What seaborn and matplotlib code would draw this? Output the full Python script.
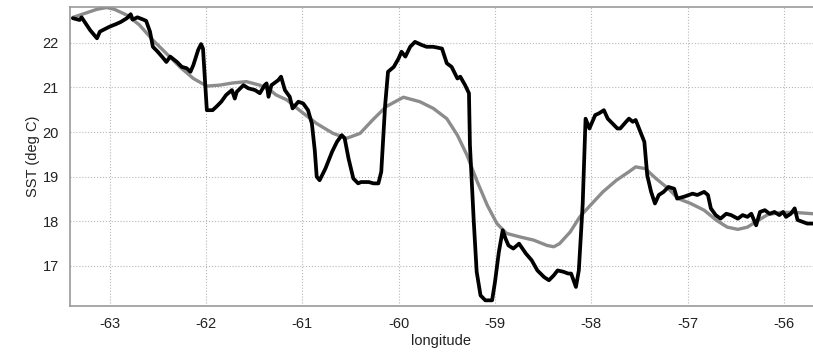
import numpy as np
import matplotlib
matplotlib.use('Agg')
import matplotlib.pyplot as plt
import seaborn as sns

# observed SST along track (black)
obs_lon = [-63.38, -63.31, -63.29, -63.20, -63.13, -63.10, -63.00, -62.93, -62.88, -62.82,
           -62.78, -62.76, -62.71, -62.65, -62.62, -62.58, -62.55, -62.50, -62.44, -62.41,
           -62.37, -62.30, -62.25, -62.20, -62.16, -62.13, -62.08, -62.05, -62.03, -61.99,
           -61.93, -61.89, -61.84, -61.79, -61.73, -61.70, -61.68, -61.61, -61.56, -61.49,
           -61.44, -61.39, -61.37, -61.35, -61.32, -61.25, -61.22, -61.18, -61.13, -61.10,
           -61.04, -60.99, -60.94, -60.90, -60.87, -60.85, -60.82, -60.76, -60.69, -60.64,
           -60.59, -60.56, -60.52, -60.47, -60.42, -60.39, -60.31, -60.26, -60.21, -60.18,
           -60.14, -60.11, -60.05, -60.00, -59.97, -59.93, -59.88, -59.83, -59.76, -59.71,
           -59.64, -59.55, -59.50, -59.45, -59.39, -59.36, -59.31, -59.27, -59.26, -59.22,
           -59.19, -59.15, -59.10, -59.03, -59.00, -58.96, -58.92, -58.89, -58.86, -58.81,
           -58.75, -58.68, -58.62, -58.56, -58.49, -58.44, -58.39, -58.35, -58.29, -58.24,
           -58.21, -58.16, -58.13, -58.09, -58.06, -58.02, -57.99, -57.96, -57.92, -57.87,
           -57.83, -57.78, -57.73, -57.70, -57.64, -57.61, -57.57, -57.54, -57.49, -57.45,
           -57.42, -57.38, -57.34, -57.30, -57.25, -57.20, -57.14, -57.11, -57.04, -56.95,
           -56.90, -56.83, -56.79, -56.76, -56.71, -56.66, -56.60, -56.55, -56.48, -56.43,
           -56.38, -56.34, -56.29, -56.25, -56.20, -56.15, -56.10, -56.05, -56.01, -55.98,
           -55.93, -55.89, -55.86, -55.81, -55.76, -55.70]
obs_sst = [22.55, 22.51, 22.57, 22.28, 22.10, 22.25, 22.36, 22.42, 22.47, 22.55,
           22.64, 22.52, 22.57, 22.52, 22.49, 22.25, 21.91, 21.80, 21.65, 21.57,
           21.69, 21.57, 21.46, 21.43, 21.35, 21.50, 21.84, 21.97, 21.87, 20.49,
           20.49, 20.57, 20.68, 20.83, 20.94, 20.75, 20.90, 21.05, 20.98, 20.94,
           20.87, 21.05, 21.09, 20.79, 21.05, 21.16, 21.24, 20.94, 20.79, 20.53,
           20.68, 20.64, 20.49, 20.19, 19.59, 19.00, 18.92, 19.18, 19.56, 19.78,
           19.93, 19.86, 19.41, 18.96, 18.85, 18.88, 18.88, 18.85, 18.85, 19.11,
           20.60, 21.35, 21.46, 21.65, 21.80, 21.69, 21.91, 22.02, 21.95, 21.91,
           21.91, 21.87, 21.54, 21.46, 21.20, 21.24, 21.05, 20.87, 19.71, 17.99,
           16.87, 16.34, 16.23, 16.23, 16.64, 17.31, 17.80, 17.61, 17.46, 17.39,
           17.50, 17.28, 17.13, 16.90, 16.75, 16.68, 16.79, 16.90, 16.87, 16.83,
           16.83, 16.53, 16.90, 18.38, 20.30, 20.08, 20.23, 20.38, 20.42, 20.49,
           20.30, 20.19, 20.08, 20.08, 20.23, 20.30, 20.23, 20.27, 20.00, 19.78,
           19.03, 18.66, 18.40, 18.59, 18.66, 18.77, 18.73, 18.51, 18.55, 18.62,
           18.59, 18.66, 18.59, 18.29, 18.14, 18.06, 18.17, 18.14, 18.06, 18.14,
           18.10, 18.17, 17.91, 18.21, 18.25, 18.17, 18.21, 18.14, 18.21, 18.10,
           18.17, 18.29, 18.03, 17.99, 17.95, 17.95]

# model SST (gray)
mod_lon = [-63.38, -63.24, -63.13, -63.03, -62.95, -62.82, -62.69, -62.55, -62.41, -62.27,
           -62.13, -61.99, -61.86, -61.72, -61.58, -61.44, -61.34, -61.27, -61.16, -61.03,
           -60.85, -60.68, -60.54, -60.40, -60.27, -60.13, -59.95, -59.78, -59.64, -59.50,
           -59.39, -59.29, -59.19, -59.08, -58.98, -58.88, -58.74, -58.60, -58.46, -58.39,
           -58.33, -58.22, -58.12, -58.01, -57.88, -57.74, -57.61, -57.54, -57.44, -57.33,
           -57.20, -57.10, -56.97, -56.83, -56.70, -56.59, -56.48, -56.38, -56.27, -56.17,
           -56.03, -55.89, -55.70]
mod_sst = [22.57, 22.67, 22.75, 22.79, 22.75, 22.62, 22.40, 22.06, 21.76, 21.46,
           21.20, 21.03, 21.05, 21.10, 21.13, 21.05, 20.95, 20.83, 20.72, 20.49,
           20.19, 19.97, 19.86, 19.97, 20.27, 20.57, 20.78, 20.68, 20.53, 20.30,
           19.93, 19.48, 18.92, 18.36, 17.95, 17.73, 17.65, 17.58, 17.46, 17.43,
           17.50, 17.76, 18.10, 18.36, 18.66, 18.92, 19.11, 19.22, 19.18, 18.96,
           18.73, 18.51, 18.40, 18.25, 18.02, 17.87, 17.82, 17.87, 18.02, 18.15,
           18.20, 18.20, 18.17]

x_ticks = [-63, -62, -61, -60, -59, -58, -57, -56]
y_ticks = [17, 18, 19, 20, 21, 22]

sns.set_style('white')
plt.rcParams['font.family'] = ['Liberation Sans', 'DejaVu Sans']
plt.rcParams['axes.unicode_minus'] = False

fig = plt.figure(figsize=(8.13, 3.53), dpi=100)
ax = fig.add_axes([0.0861, 0.134, 0.9139, 0.846])

sns.lineplot(x=mod_lon, y=mod_sst, ax=ax, color='#8c8c8c', linewidth=2.4,
             estimator=None, sort=False)
sns.lineplot(x=obs_lon, y=obs_sst, ax=ax, color='black', linewidth=2.7,
             estimator=None, sort=False)

ax.set_xlim(-63.41, -55.70)
ax.set_ylim(16.11, 22.80)
ax.set_xticks(x_ticks)
ax.set_yticks(y_ticks)
ax.grid(True, linestyle=':', color='#b8b8b8', linewidth=0.8)
ax.tick_params(direction='in', length=4, color='#555555', labelsize=10.5,
               labelcolor='#222222', pad=8)
for side in ['left', 'top', 'bottom']:
    ax.spines[side].set_color('#999999')
    ax.spines[side].set_linewidth(1.2)
ax.spines['right'].set_visible(False)

ax.set_xlabel('longitude', fontsize=10.5, color='#222222', labelpad=2)
ax.set_ylabel('SST (deg C)', fontsize=10.5, color='#222222', labelpad=2)

plt.savefig('out.png', dpi=100)
plt.close()
